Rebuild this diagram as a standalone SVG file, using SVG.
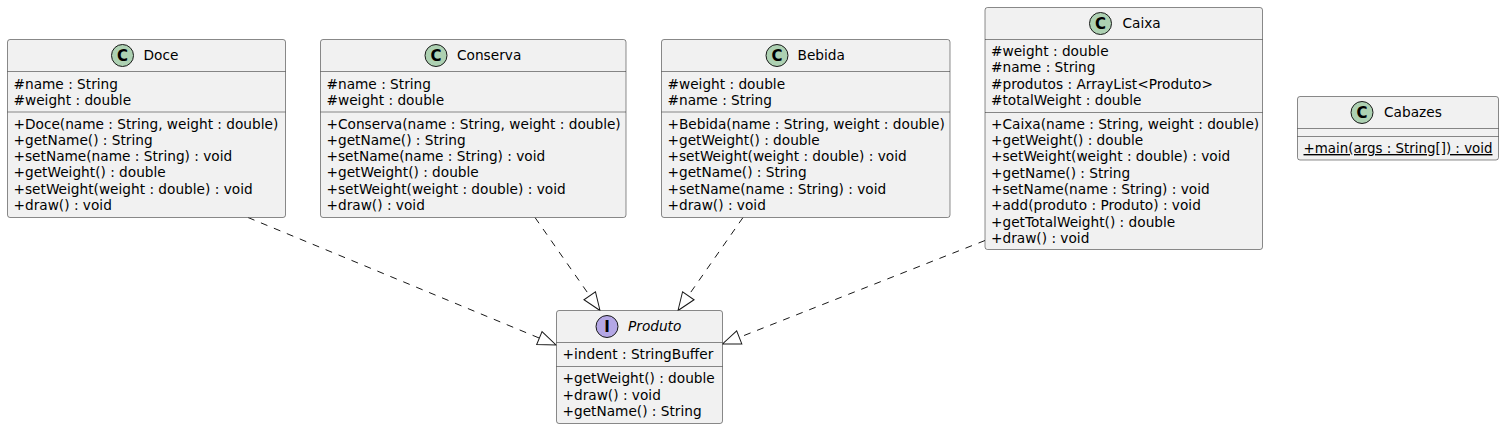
<svg xmlns="http://www.w3.org/2000/svg" width="1504" height="429" viewBox="0 0 1504 429">
<style>
.box{fill:#F1F1F1;stroke:#181818;stroke-width:0.5}
.sep{stroke:#181818;stroke-width:0.5}
.circ{stroke:#181818;stroke-width:1}
.cls{fill:#ADD1B2}
.itf{fill:#B4A7E5}
.glyph{font-family:"DejaVu Sans",sans-serif;font-size:15px;font-weight:bold;fill:#000;text-anchor:middle}
.name{font-family:"DejaVu Sans",sans-serif;font-size:13.7px;fill:#000}
.mem{font-family:"DejaVu Sans",sans-serif;font-size:13.7px;fill:#000}
.edge{fill:none;stroke:#181818;stroke-width:1;stroke-dasharray:7,7;marker-end:url(#tri)}
</style>
<defs>
<marker id="tri" markerUnits="userSpaceOnUse" markerWidth="22" markerHeight="18" viewBox="-2 -9 22 18" refX="18" refY="0" orient="auto">
<path d="M0,-7 L18,0 L0,7 Z" fill="#FFFFFF" stroke="#181818" stroke-width="1"/>
</marker>
</defs>
<rect width="1504" height="429" fill="#FFFFFF"/>

<g id="connectors">
<path class="edge" d="M248,217.5 L556,345"/>
<path class="edge" d="M535,217.5 L600,310.5"/>
<path class="edge" d="M743,217.5 L678,310.5"/>
<path class="edge" d="M985,240.5 L722.5,344"/>
</g>

<g id="Doce">
<rect class="box" x="7.5" y="39.5" width="278" height="178" rx="2.5" ry="2.5"/>
<circle class="circ cls" cx="122.5" cy="55.5" r="11"/>
<text class="glyph" x="122.5" y="60.8">C</text>
<text class="name" x="143.5" y="60.3">Doce</text>
<line class="sep" x1="7.5" y1="71.5" x2="285.5" y2="71.5"/>
<text class="mem" x="13.5" y="88.5">#name : String</text>
<text class="mem" x="13.5" y="104.8">#weight : double</text>
<line class="sep" x1="7.5" y1="112" x2="285.5" y2="112"/>
<text class="mem" x="13.5" y="128.5">+Doce(name : String, weight : double)</text>
<text class="mem" x="13.5" y="144.8">+getName() : String</text>
<text class="mem" x="13.5" y="161.1">+setName(name : String) : void</text>
<text class="mem" x="13.5" y="177.4">+getWeight() : double</text>
<text class="mem" x="13.5" y="193.7">+setWeight(weight : double) : void</text>
<text class="mem" x="13.5" y="210">+draw() : void</text>
</g>

<g id="Conserva">
<rect class="box" x="320.5" y="39.5" width="305.5" height="178" rx="2.5" ry="2.5"/>
<circle class="circ cls" cx="436" cy="55.5" r="11"/>
<text class="glyph" x="436" y="60.8">C</text>
<text class="name" x="457" y="60.3">Conserva</text>
<line class="sep" x1="320.5" y1="71.5" x2="626" y2="71.5"/>
<text class="mem" x="326.5" y="88.5">#name : String</text>
<text class="mem" x="326.5" y="104.8">#weight : double</text>
<line class="sep" x1="320.5" y1="112" x2="626" y2="112"/>
<text class="mem" x="326.5" y="128.5">+Conserva(name : String, weight : double)</text>
<text class="mem" x="326.5" y="144.8">+getName() : String</text>
<text class="mem" x="326.5" y="161.1">+setName(name : String) : void</text>
<text class="mem" x="326.5" y="177.4">+getWeight() : double</text>
<text class="mem" x="326.5" y="193.7">+setWeight(weight : double) : void</text>
<text class="mem" x="326.5" y="210">+draw() : void</text>
</g>

<g id="Bebida">
<rect class="box" x="661.5" y="39.5" width="288.5" height="178" rx="2.5" ry="2.5"/>
<circle class="circ cls" cx="777" cy="55.5" r="11"/>
<text class="glyph" x="777" y="60.8">C</text>
<text class="name" x="797.5" y="60.3">Bebida</text>
<line class="sep" x1="661.5" y1="71.5" x2="950" y2="71.5"/>
<text class="mem" x="667.5" y="88.5">#weight : double</text>
<text class="mem" x="667.5" y="104.8">#name : String</text>
<line class="sep" x1="661.5" y1="112" x2="950" y2="112"/>
<text class="mem" x="667.5" y="128.5">+Bebida(name : String, weight : double)</text>
<text class="mem" x="667.5" y="144.8">+getWeight() : double</text>
<text class="mem" x="667.5" y="161.1">+setWeight(weight : double) : void</text>
<text class="mem" x="667.5" y="177.4">+getName() : String</text>
<text class="mem" x="667.5" y="193.7">+setName(name : String) : void</text>
<text class="mem" x="667.5" y="210">+draw() : void</text>
</g>

<g id="Caixa">
<rect class="box" x="985" y="7.5" width="277.5" height="242" rx="2.5" ry="2.5"/>
<circle class="circ cls" cx="1100.5" cy="23.5" r="11"/>
<text class="glyph" x="1100.5" y="28.8">C</text>
<text class="name" x="1122.5" y="28.3">Caixa</text>
<line class="sep" x1="985" y1="39.5" x2="1262.5" y2="39.5"/>
<text class="mem" x="991" y="56">#weight : double</text>
<text class="mem" x="991" y="72.3">#name : String</text>
<text class="mem" x="991" y="88.6">#produtos : ArrayList&lt;Produto&gt;</text>
<text class="mem" x="991" y="104.9">#totalWeight : double</text>
<line class="sep" x1="985" y1="112.5" x2="1262.5" y2="112.5"/>
<text class="mem" x="991" y="128.8">+Caixa(name : String, weight : double)</text>
<text class="mem" x="991" y="145.1">+getWeight() : double</text>
<text class="mem" x="991" y="161.4">+setWeight(weight : double) : void</text>
<text class="mem" x="991" y="177.7">+getName() : String</text>
<text class="mem" x="991" y="194">+setName(name : String) : void</text>
<text class="mem" x="991" y="210.3">+add(produto : Produto) : void</text>
<text class="mem" x="991" y="226.6">+getTotalWeight() : double</text>
<text class="mem" x="991" y="242.9">+draw() : void</text>
</g>

<g id="Cabazes">
<rect class="box" x="1297.5" y="96.5" width="201" height="63.5" rx="2.5" ry="2.5"/>
<circle class="circ cls" cx="1362" cy="112.5" r="11"/>
<text class="glyph" x="1362" y="117.8">C</text>
<text class="name" x="1384" y="117.3">Cabazes</text>
<line class="sep" x1="1297.5" y1="128.5" x2="1498.5" y2="128.5"/>
<line class="sep" x1="1297.5" y1="136.5" x2="1498.5" y2="136.5"/>
<text class="mem" x="1303.5" y="153" textLength="189" lengthAdjust="spacingAndGlyphs" text-decoration="underline">+main(args : String[]) : void</text>
</g>

<g id="Produto">
<rect class="box" x="556.5" y="310.5" width="166" height="113" rx="2.5" ry="2.5"/>
<circle class="circ itf" cx="607" cy="326.5" r="11"/>
<text class="glyph" x="607" y="331.8">I</text>
<text class="name" x="628" y="331.3" font-style="italic">Produto</text>
<line class="sep" x1="556.5" y1="342.5" x2="722.5" y2="342.5"/>
<text class="mem" x="562.5" y="359.3">+indent : StringBuffer</text>
<line class="sep" x1="556.5" y1="366.5" x2="722.5" y2="366.5"/>
<text class="mem" x="562.5" y="383.3">+getWeight() : double</text>
<text class="mem" x="562.5" y="399.6">+draw() : void</text>
<text class="mem" x="562.5" y="415.9">+getName() : String</text>
</g>
</svg>
